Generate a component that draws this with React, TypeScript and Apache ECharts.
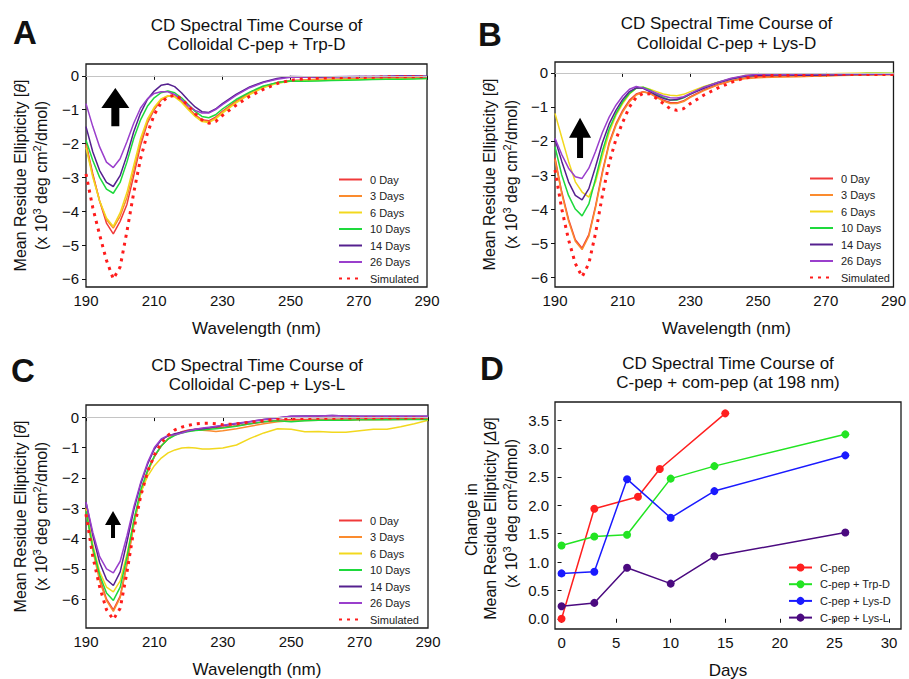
import React, { useEffect, useRef } from 'react';
import * as echarts from 'echarts';

const FONT = '"Liberation Sans", Arial, Helvetica, sans-serif';

// ---------- Data ----------
const wavelengths = [190, 192, 194, 196, 198, 200, 202, 204, 206, 208, 210, 212, 214, 216, 218, 220, 222, 224, 226, 228, 230, 234, 238, 242, 246, 250, 254, 258, 262, 266, 270, 274, 278, 282, 286, 290];

const spectrumLabels = ['0 Day', '3 Days', '6 Days', '10 Days', '14 Days', '26 Days', 'Simulated'];
const spectrumColors = ['#f03a3a', '#fb8b2e', '#f2d81e', '#1ed93c', '#55208f', '#9a3fcc', '#ff1c1c'];

const wavelengthTicks = [190, 210, 230, 250, 270, 290];
const ellipticityTicks = [-6, -5, -4, -3, -2, -1, 0];

// Panel A: Colloidal C-pep + Trp-D
const trpD0 = [-2.0, -2.9, -3.7, -4.35, -4.67, -4.3, -3.8, -2.95, -2.05, -1.4, -1.0, -0.72, -0.6, -0.6, -0.74, -0.95, -1.15, -1.3, -1.33, -1.22, -1.05, -0.75, -0.5, -0.32, -0.2, -0.14, -0.12, -0.1, -0.1, -0.09, -0.08, -0.07, -0.06, -0.06, -0.05, -0.05];
const trpD3 = [-2.05, -2.95, -3.7, -4.25, -4.5, -4.15, -3.6, -2.8, -1.95, -1.35, -0.97, -0.7, -0.6, -0.6, -0.75, -0.97, -1.18, -1.33, -1.36, -1.25, -1.07, -0.77, -0.52, -0.33, -0.21, -0.15, -0.13, -0.12, -0.11, -0.1, -0.09, -0.08, -0.08, -0.07, -0.07, -0.07];
const trpD6 = [-2.12, -3.0, -3.7, -4.2, -4.45, -4.05, -3.45, -2.65, -1.85, -1.28, -0.93, -0.68, -0.59, -0.62, -0.78, -1.0, -1.2, -1.35, -1.38, -1.27, -1.1, -0.8, -0.55, -0.35, -0.22, -0.16, -0.14, -0.13, -0.12, -0.11, -0.1, -0.1, -0.09, -0.09, -0.08, -0.08];
const trpD10 = [-1.9, -2.5, -3.0, -3.35, -3.47, -3.15, -2.55, -1.85, -1.3, -0.9, -0.65, -0.5, -0.45, -0.5, -0.65, -0.85, -1.05, -1.2, -1.24, -1.15, -0.98, -0.7, -0.48, -0.3, -0.2, -0.15, -0.16, -0.15, -0.14, -0.13, -0.12, -0.11, -0.1, -0.1, -0.09, -0.08];
const trpD14 = [-1.5, -2.25, -2.8, -3.15, -3.27, -2.95, -2.35, -1.65, -1.1, -0.7, -0.45, -0.28, -0.24, -0.32, -0.5, -0.72, -0.92, -1.06, -1.08, -0.98, -0.82, -0.55, -0.33, -0.18, -0.08, -0.02, -0.03, -0.04, -0.03, -0.03, -0.02, -0.02, -0.01, 0.0, 0.0, -0.01];
const trpD26 = [-0.82, -1.5, -2.1, -2.55, -2.71, -2.45, -1.95, -1.4, -0.95, -0.68, -0.52, -0.47, -0.47, -0.55, -0.7, -0.88, -1.02, -1.1, -1.1, -1.0, -0.85, -0.58, -0.35, -0.2, -0.1, -0.04, -0.04, -0.03, -0.03, -0.02, -0.02, -0.02, -0.02, -0.01, -0.01, -0.02];
const trpDSim = [-2.9, -3.9, -4.7, -5.45, -6.0, -5.65, -4.6, -3.45, -2.45, -1.7, -1.15, -0.8, -0.62, -0.57, -0.68, -0.88, -1.12, -1.3, -1.4, -1.35, -1.17, -0.87, -0.6, -0.4, -0.23, -0.13, -0.09, -0.07, -0.06, -0.05, -0.05, -0.04, -0.03, -0.03, -0.03, -0.03];

// Panel B: Colloidal C-pep + Lys-D
const lysD0 = [-2.5, -3.5, -4.3, -4.9, -5.15, -4.75, -3.9, -2.9, -2.05, -1.5, -1.1, -0.8, -0.62, -0.55, -0.6, -0.7, -0.8, -0.87, -0.88, -0.82, -0.7, -0.5, -0.35, -0.23, -0.15, -0.1, -0.1, -0.1, -0.1, -0.1, -0.08, -0.07, -0.06, -0.05, -0.05, -0.05];
const lysD3 = [-2.55, -3.55, -4.35, -4.95, -5.19, -4.8, -3.95, -2.95, -2.1, -1.55, -1.15, -0.85, -0.65, -0.56, -0.6, -0.72, -0.83, -0.9, -0.9, -0.84, -0.72, -0.52, -0.36, -0.24, -0.17, -0.14, -0.13, -0.12, -0.11, -0.1, -0.09, -0.08, -0.07, -0.06, -0.06, -0.05];
const lysD6 = [-1.19, -1.9, -2.6, -3.2, -3.5, -3.65, -3.2, -2.45, -1.75, -1.25, -0.9, -0.62, -0.45, -0.42, -0.48, -0.55, -0.62, -0.66, -0.67, -0.63, -0.55, -0.4, -0.28, -0.17, -0.08, -0.05, -0.05, -0.04, -0.04, -0.03, -0.03, -0.02, -0.01, 0.0, 0.0, -0.01];
const lysD10 = [-2.17, -3.0, -3.6, -4.0, -4.2, -3.85, -3.1, -2.3, -1.65, -1.2, -0.85, -0.6, -0.45, -0.42, -0.5, -0.62, -0.72, -0.8, -0.8, -0.73, -0.62, -0.42, -0.28, -0.17, -0.1, -0.06, -0.05, -0.04, -0.04, -0.03, -0.03, -0.03, -0.03, -0.02, -0.02, -0.02];
const lysD14 = [-1.95, -2.6, -3.2, -3.6, -3.73, -3.4, -2.75, -2.05, -1.5, -1.1, -0.78, -0.55, -0.44, -0.45, -0.55, -0.66, -0.75, -0.8, -0.78, -0.72, -0.62, -0.45, -0.3, -0.18, -0.1, -0.07, -0.06, -0.06, -0.07, -0.07, -0.06, -0.06, -0.05, -0.05, -0.04, -0.04];
const lysD26 = [-1.92, -2.4, -2.8, -3.05, -3.1, -2.8, -2.3, -1.75, -1.3, -0.95, -0.68, -0.48, -0.4, -0.44, -0.52, -0.6, -0.68, -0.73, -0.74, -0.7, -0.6, -0.42, -0.28, -0.16, -0.08, -0.04, -0.04, -0.04, -0.04, -0.03, -0.03, -0.03, -0.03, -0.03, -0.03, -0.03];
const lysDSim = [-2.85, -4.0, -4.9, -5.6, -5.99, -5.6, -4.7, -3.6, -2.65, -1.95, -1.45, -1.0, -0.72, -0.6, -0.62, -0.75, -0.9, -1.05, -1.1, -1.05, -0.9, -0.65, -0.45, -0.28, -0.15, -0.1, -0.08, -0.07, -0.06, -0.06, -0.05, -0.05, -0.05, -0.05, -0.05, -0.05];

// Panel C: Colloidal C-pep + Lys-L
const lysL0 = [-3.0, -4.3, -5.3, -6.0, -6.35, -5.9, -4.8, -3.5, -2.5, -1.8, -1.3, -0.95, -0.72, -0.58, -0.48, -0.42, -0.4, -0.38, -0.36, -0.35, -0.33, -0.28, -0.22, -0.15, -0.1, -0.08, -0.08, -0.07, -0.07, -0.06, -0.06, -0.06, -0.05, -0.05, -0.05, -0.05];
const lysL3 = [-3.1, -4.4, -5.4, -6.05, -6.4, -5.95, -4.85, -3.55, -2.5, -1.8, -1.3, -0.95, -0.72, -0.58, -0.5, -0.45, -0.43, -0.43, -0.45, -0.47, -0.45, -0.38, -0.3, -0.22, -0.15, -0.12, -0.11, -0.1, -0.1, -0.1, -0.09, -0.09, -0.08, -0.08, -0.07, -0.07];
const lysL6 = [-3.0, -4.2, -5.1, -5.6, -5.76, -5.4, -4.5, -3.4, -2.5, -1.95, -1.6, -1.35, -1.18, -1.08, -1.02, -1.0, -1.02, -1.05, -1.05, -1.03, -1.02, -0.92, -0.7, -0.52, -0.38, -0.4, -0.48, -0.47, -0.5, -0.5, -0.45, -0.4, -0.4, -0.32, -0.22, -0.1];
const lysL10 = [-3.1, -4.3, -5.2, -5.8, -6.04, -5.6, -4.6, -3.4, -2.4, -1.75, -1.28, -0.95, -0.72, -0.6, -0.52, -0.47, -0.44, -0.42, -0.4, -0.38, -0.36, -0.3, -0.22, -0.15, -0.12, -0.15, -0.12, -0.1, -0.1, -0.1, -0.09, -0.09, -0.09, -0.08, -0.08, -0.08];
const lysL14 = [-2.8, -3.9, -4.8, -5.35, -5.55, -5.1, -4.1, -3.05, -2.2, -1.55, -1.05, -0.75, -0.62, -0.55, -0.5, -0.45, -0.4, -0.38, -0.35, -0.32, -0.28, -0.22, -0.15, -0.08, -0.03, 0.03, 0.04, 0.04, 0.05, 0.04, 0.03, 0.03, 0.03, 0.03, 0.03, 0.03];
const lysL26 = [-2.8, -3.8, -4.6, -5.0, -5.13, -4.75, -3.9, -2.95, -2.15, -1.5, -1.0, -0.72, -0.6, -0.58, -0.52, -0.45, -0.4, -0.36, -0.33, -0.3, -0.27, -0.2, -0.14, -0.08, -0.02, 0.03, 0.03, 0.04, 0.05, 0.04, 0.03, 0.03, 0.03, 0.03, 0.03, 0.03];
const lysLSim = [-3.2, -4.6, -5.6, -6.35, -6.67, -6.3, -5.1, -3.7, -2.6, -1.8, -1.25, -0.85, -0.6, -0.42, -0.33, -0.27, -0.22, -0.2, -0.2, -0.22, -0.25, -0.22, -0.17, -0.12, -0.06, -0.05, -0.04, -0.04, -0.04, -0.03, -0.03, -0.03, -0.03, -0.03, -0.03, -0.03];

// Panel D: change at 198 nm
const groupLabels = ['C-pep', 'C-pep + Trp-D', 'C-pep + Lys-D', 'C-pep + Lys-L'];
const groupColors = ['#ff1f1f', '#22e422', '#1a1aff', '#4b0a80'];
const cpepDays = [0, 3, 7, 9, 15];
const cpepDelta = [0.0, 1.94, 2.15, 2.64, 3.62];
const comDays = [0, 3, 6, 10, 14, 26];
const trpDDelta = [1.29, 1.45, 1.48, 2.47, 2.69, 3.25];
const lysDDelta = [0.8, 0.83, 2.46, 1.78, 2.25, 2.88];
const lysLDelta = [0.22, 0.28, 0.9, 0.62, 1.1, 1.52];
const dayTicks = [0, 5, 10, 15, 20, 25, 30];
const deltaTicks = [0, 0.5, 1, 1.5, 2, 2.5, 3, 3.5];

// ---------- Layout ----------
const spectraPanels = [
  {
    series: [trpD0, trpD3, trpD6, trpD10, trpD14, trpD26, trpDSim],
    grid: { left: 86, top: 64, width: 341, height: 223 },
    yMin: -6.24, yMax: 0.35,
    legend: { left: 338, top: 174 },
    title: ['CD Spectral Time Course of', 'Colloidal C-pep + Trp-D'],
    titleY: [25, 44], letter: 'A', letterPos: [25, 32],
    yLabelX: [20.5, 41.5],
    arrow: { wl: 198.6, tip: -0.36, base: -1.49, hw: 28, hh: 20, sw: 8 },
  },
  {
    series: [lysD0, lysD3, lysD6, lysD10, lysD14, lysD26, lysDSim],
    grid: { left: 555, top: 62, width: 343, height: 225 },
    yMin: -6.29, yMax: 0.32,
    legend: { left: 809, top: 173 },
    title: ['CD Spectral Time Course of', 'Colloidal C-pep + Lys-D'],
    titleY: [23, 43], letter: 'B', letterPos: [490, 34],
    yLabelX: [489, 511],
    arrow: { wl: 197.4, tip: -1.32, base: -2.5, hw: 22, hh: 20, sw: 6 },
  },
  {
    series: [lysL0, lysL3, lysL6, lysL10, lysL14, lysL26, lysLSim],
    grid: { left: 86, top: 405, width: 342, height: 223 },
    yMin: -6.95, yMax: 0.4,
    legend: { left: 338, top: 515 },
    title: ['CD Spectral Time Course of', 'Colloidal C-pep + Lys-L'],
    titleY: [365, 384], letter: 'C', letterPos: [23, 370],
    yLabelX: [20.5, 41.5],
    arrow: { wl: 197.9, tip: -3.09, base: -3.98, hw: 16, hh: 14, sw: 4 },
  },
];
const gridD = { left: 555, top: 402, width: 346, height: 227 };

const minusFmt = (v: number) => (v < 0 ? '\u2212' + Math.abs(v) : String(v));

function buildOption() {
  const grids: any[] = [];
  const xAxes: any[] = [];
  const yAxes: any[] = [];
  const series: any[] = [];
  const legends: any[] = [];

  const tickStyle = { show: true, inside: false, length: 4, lineStyle: { color: '#111', width: 1 } };
  const labelStyle = { fontSize: 15, color: '#111', fontFamily: FONT };

  spectraPanels.forEach((p, pi) => {
    grids.push({ ...p.grid, show: true, borderColor: '#1a1a1a', borderWidth: 1.3, backgroundColor: 'transparent' });
    xAxes.push({
      type: 'value', gridIndex: pi, min: 190, max: 290,
      axisLine: { show: false },
      axisTick: { ...tickStyle, customValues: wavelengthTicks },
      axisLabel: { ...labelStyle, margin: 6, customValues: wavelengthTicks },
      splitLine: { show: false },
    });
    yAxes.push({
      type: 'value', gridIndex: pi, min: p.yMin, max: p.yMax,
      axisLine: { show: false },
      axisTick: { ...tickStyle, customValues: ellipticityTicks },
      axisLabel: { ...labelStyle, margin: 7, customValues: ellipticityTicks, formatter: minusFmt },
      splitLine: { show: false },
    });
    p.series.forEach((vals, si) => {
      const color = spectrumColors[si];
      const sim = si === 6;
      const s: any = {
        type: 'line', name: spectrumLabels[si], xAxisIndex: pi, yAxisIndex: pi,
        data: wavelengths.map((w, j) => [w, vals[j]]),
        symbol: 'none', showSymbol: false, smooth: false,
        lineStyle: sim ? { color, width: 3, type: [3, 5], cap: 'butt' } : { color, width: 1.5 },
        itemStyle: { color },
        z: sim ? 4 : 3,
        silent: true,
      };
      if (si === 0) {
        s.markLine = {
          silent: true, symbol: 'none', label: { show: false },
          lineStyle: { color: '#c4c4c4', width: 1, type: 'solid' },
          data: [{ yAxis: 0 }],
        };
      }
      series.push(s);
    });
    legends.push({
      data: spectrumLabels, orient: 'vertical', left: p.legend.left, top: p.legend.top,
      itemWidth: 23, itemHeight: 10, itemGap: 5.5, padding: 0, selectedMode: false,
      itemStyle: { opacity: 0 },
      textStyle: { fontSize: 11, color: '#222', fontFamily: FONT, lineHeight: 10, padding: [0, 0, 0, 3] },
    });
  });

  // Panel D
  grids.push({ ...gridD, show: true, borderColor: '#1a1a1a', borderWidth: 1.3, backgroundColor: 'transparent' });
  xAxes.push({
    type: 'value', gridIndex: 3, min: -0.6, max: 31.1,
    axisLine: { show: false },
    axisTick: { ...tickStyle, customValues: dayTicks },
    axisLabel: { ...labelStyle, margin: 6, customValues: dayTicks },
    splitLine: { show: false },
  });
  yAxes.push({
    type: 'value', gridIndex: 3, min: -0.18, max: 3.82,
    axisLine: { show: false },
    axisTick: { ...tickStyle, customValues: deltaTicks },
    axisLabel: { ...labelStyle, margin: 6, customValues: deltaTicks, formatter: (v: number) => v.toFixed(1) },
    splitLine: { show: false },
  });
  const dSets = [
    [cpepDays, cpepDelta],
    [comDays, trpDDelta],
    [comDays, lysDDelta],
    [comDays, lysLDelta],
  ];
  dSets.forEach(([days, vals], i) => {
    series.push({
      type: 'line', name: groupLabels[i], xAxisIndex: 3, yAxisIndex: 3,
      data: days.map((d, j) => [d, vals[j]]),
      symbol: 'circle', symbolSize: 8, showSymbol: true,
      lineStyle: { color: groupColors[i], width: 1.5 },
      itemStyle: { color: groupColors[i] },
      z: 3, silent: true,
    });
  });
  legends.push({
    data: groupLabels, orient: 'vertical', left: 788, top: 562,
    itemWidth: 23, itemHeight: 10, itemGap: 5.7, padding: 0, selectedMode: false,
    textStyle: { fontSize: 11, color: '#222', fontFamily: FONT, lineHeight: 10, padding: [0, 0, 0, 3] },
  });

  return {
    animation: false,
    backgroundColor: '#ffffff',
    grid: grids,
    xAxis: xAxes,
    yAxis: yAxes,
    legend: legends,
    series,
  };
}

const richLabel = {
  sup: { fontSize: 11, fontFamily: FONT, verticalAlign: 'top', fill: '#111' },
  it: { fontSize: 16, fontFamily: FONT, fontStyle: 'italic', fill: '#111' },
};

function text(t: string, x: number, y: number, size: number, opt: any = {}) {
  return {
    type: 'text', x, y, rotation: opt.rot || 0, silent: true,
    style: {
      text: t, fontSize: size, fontFamily: FONT, fontWeight: opt.bold ? 'bold' : 'normal',
      fill: '#111', align: 'center', verticalAlign: 'middle',
      textAlign: 'center', textVerticalAlign: 'middle',
      lineHeight: opt.lineHeight, rich: opt.rich,
    },
  };
}

function buildGraphic(chart: any) {
  const els: any[] = [];
  const unitLine = '(x 10{sup|3} deg cm{sup|2}/dmol)';
  spectraPanels.forEach((p, pi) => {
    const cx = p.grid.left + p.grid.width / 2;
    const cy = p.grid.top + p.grid.height / 2;
    els.push(text(p.title[0], cx, p.titleY[0], 17));
    els.push(text(p.title[1], cx, p.titleY[1], 17));
    els.push(text(p.letter, p.letterPos[0], p.letterPos[1], 33, { bold: true }));
    els.push(text('Wavelength (nm)', cx, p.grid.top + p.grid.height + 41, 17));
    els.push(text('Mean Residue Ellipticity [{it|θ}]', p.yLabelX[0], cy, 16, { rot: Math.PI / 2, rich: richLabel, lineHeight: 20 }));
    els.push(text(unitLine, p.yLabelX[1], cy, 16, { rot: Math.PI / 2, rich: richLabel, lineHeight: 20 }));
    const a = p.arrow;
    const tip = chart.convertToPixel({ gridIndex: pi }, [a.wl, a.tip]);
    const base = chart.convertToPixel({ gridIndex: pi }, [a.wl, a.base]);
    const x = tip[0];
    const ty = tip[1];
    const by = base[1];
    els.push({
      type: 'polygon', silent: true,
      shape: {
        points: [
          [x, ty], [x + a.hw / 2, ty + a.hh], [x + a.sw / 2, ty + a.hh], [x + a.sw / 2, by],
          [x - a.sw / 2, by], [x - a.sw / 2, ty + a.hh], [x - a.hw / 2, ty + a.hh],
        ],
      },
      style: { fill: '#000' },
      z: 10,
    });
  });
  const dcx = gridD.left + gridD.width / 2;
  const dcy = gridD.top + gridD.height / 2;
  els.push(text('CD Spectral Time Course of', dcx, 363, 17));
  els.push(text('C-pep + com-pep (at 198 nm)', dcx, 382, 17));
  els.push(text('D', 492, 368, 33, { bold: true }));
  els.push(text('Days', dcx, 670, 17));
  els.push(text('Change in', 471, dcy + 4, 16, { rot: Math.PI / 2 }));
  els.push(text('Mean Residue Ellipticity [{it|Δθ}]', 490, dcy + 3, 16, { rot: Math.PI / 2, rich: richLabel, lineHeight: 20 }));
  els.push(text(unitLine, 511, dcy - 2, 16, { rot: Math.PI / 2, rich: richLabel, lineHeight: 20 }));
  return els;
}

export default function App() {
  const ref = useRef<HTMLDivElement>(null);
  useEffect(() => {
    document.body.style.margin = '0';
    const chart = echarts.init(ref.current as HTMLDivElement, undefined, { renderer: 'svg' });
    chart.setOption(buildOption() as any);
    chart.setOption({ graphic: buildGraphic(chart) } as any);
    return () => chart.dispose();
  }, []);
  return <div ref={ref} style={{ width: 909, height: 679, background: '#fff' }} />;
}
